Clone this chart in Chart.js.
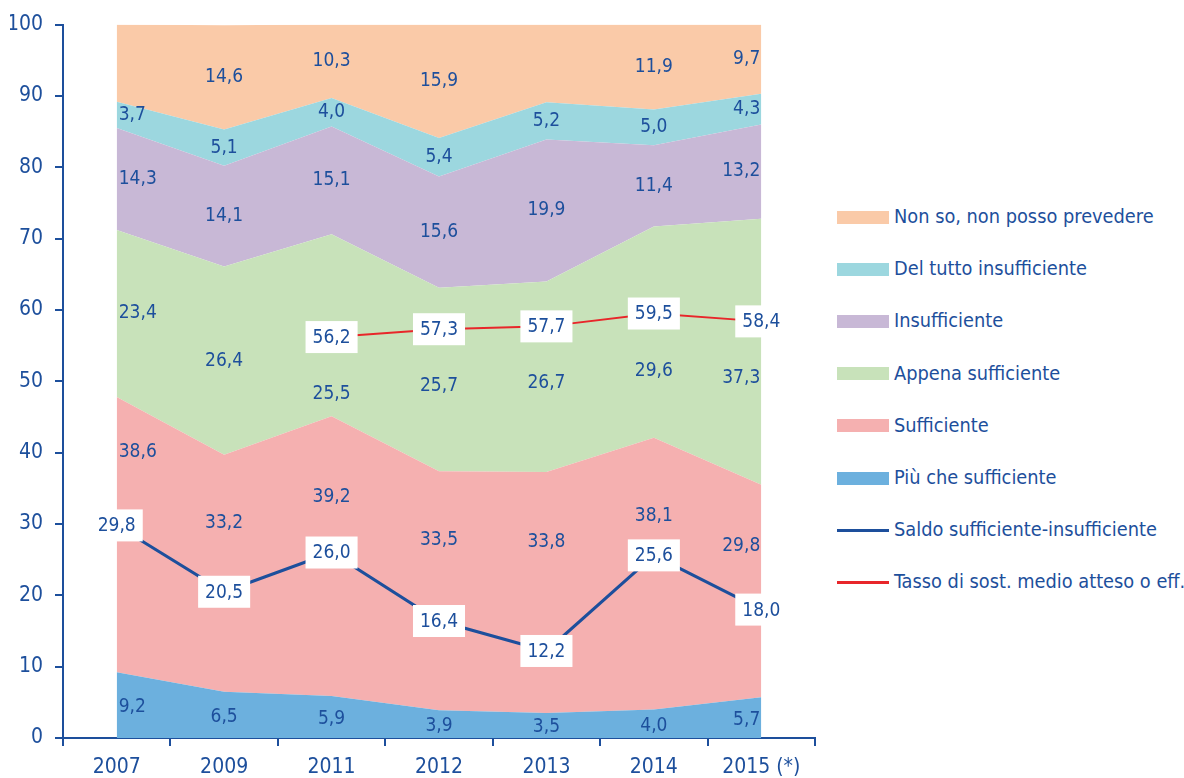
<!DOCTYPE html>
<html>
<head>
<meta charset="utf-8">
<script src="https://cdn.jsdelivr.net/npm/chart.js@4.4.1/dist/chart.umd.min.js"></script>
<style>
  body { margin: 0; background: #fff; }
  #wrap { position: relative; width: 1184px; height: 778px; }
  #box { position: absolute; left: 0; top: 0; width: 820px; height: 778px; }
  #legenda { position: absolute; left: 837px; top: 0; width: 347px; height: 778px;
    font-family: "DejaVu Sans Condensed", sans-serif; font-stretch: condensed;
    font-size: 19.8px; color: #1d4f9c; }
  .voce { position: absolute; left: 0; height: 26px; line-height: 26px; white-space: nowrap; }
  .voce span.seg { position: absolute; left: 0; width: 52px; }
  .voce span.txt { position: absolute; left: 57px; }
</style>
</head>
<body>
<div id="wrap">
  <div id="box"><canvas id="grafico"></canvas></div>
  <div id="legenda"></div>
</div>
<script>
// Anni (asse x)
const anni = ["2007", "2009", "2011", "2012", "2013", "2014", "2015 (*)"];
const tickY = [0, 10, 20, 30, 40, 50, 60, 70, 80, 90, 100];

// Quote % per giudizio (dal basso verso l'alto)
const piuCheSufficiente = [9.2, 6.5, 5.9, 3.9, 3.5, 4.0, 5.7];
const sufficiente = [38.6, 33.2, 39.2, 33.5, 33.8, 38.1, 29.8];
const appenaSufficiente = [23.4, 26.4, 25.5, 25.7, 26.7, 29.6, 37.3];
const insufficiente = [14.3, 14.1, 15.1, 15.6, 19.9, 11.4, 13.2];
const delTuttoInsufficiente = [3.7, 5.1, 4.0, 5.4, 5.2, 5.0, 4.3];
const nonSo = [10.8, 14.6, 10.3, 15.9, 10.9, 11.9, 9.7];
// etichette del "non so" non riportate nel grafico originale
const nonSoMostra = [false, true, true, true, false, true, true];

// Linee
const saldo = [29.8, 20.5, 26.0, 16.4, 12.2, 25.6, 18.0];
const tasso = [null, null, 56.2, 57.3, 57.7, 59.5, 58.4];

const BLU = "#1d4f9c";
const ROSSO = "#e8262a";
const FONT = "'DejaVu Sans Condensed', sans-serif";

function area(label, data, colore, fill) {
  return {
    type: "line",
    label: label,
    data: data,
    backgroundColor: colore,
    borderColor: "rgba(255,255,255,0)",
    borderWidth: 0,
    pointRadius: 0,
    fill: fill,
    yAxisID: "y",
    tension: 0,
  };
}

const datasets = [
  area("Più che sufficiente", piuCheSufficiente, "#6cb0de", "origin"),
  area("Sufficiente", sufficiente, "#f5b0b0", "-1"),
  area("Appena sufficiente", appenaSufficiente, "#c8e2ba", "-1"),
  area("Insufficiente", insufficiente, "#c8b8d6", "-1"),
  area("Del tutto insufficiente", delTuttoInsufficiente, "#9cd7df", "-1"),
  area("Non so, non posso prevedere", nonSo, "#facaa8", "-1"),
  {
    type: "line", label: "Saldo sufficiente-insufficiente", data: saldo,
    borderColor: BLU, borderWidth: 3, pointRadius: 0, fill: false,
    yAxisID: "y2", order: -1, tension: 0,
  },
  {
    type: "line", label: "Tasso di sost. medio atteso o eff.", data: tasso,
    borderColor: ROSSO, borderWidth: 2, pointRadius: 0, fill: false,
    yAxisID: "y2", order: -2, tension: 0, spanGaps: false,
  },
];

// Etichette dei valori
const etichette = {
  id: "etichette",
  afterDatasetsDraw(chart) {
    const ctx = chart.ctx;
    const y = chart.scales.y;
    ctx.save();
    ctx.font = "19px " + FONT;
    ctx.fillStyle = BLU;
    ctx.textBaseline = "middle";
    const n = anni.length;
    for (let d = 0; d < 6; d++) {
      const meta = chart.getDatasetMeta(d);
      const dati = datasets[d].data;
      for (let j = 0; j < n; j++) {
        if (d === 5 && !nonSoMostra[j]) continue;
        let base = 0;
        for (let k = 0; k < d; k++) base += datasets[k].data[j];
        const top = base + dati[j];
        let v = (base + top) / 2;
        // sufficiente: etichetta spostata in alto per non coprire il saldo
        if (d === 1) v = base + (j === 0 ? 0.8 : 0.71) * dati[j];
        // appena sufficiente: sotto l'etichetta del tasso
        if (d === 2 && tasso[j] !== null) v = Math.min(v, tasso[j] - 8);
        const px = meta.data[j].x;
        const py = y.getPixelForValue(v) + (d === 0 ? 2 : 0);
        const testo = dati[j].toFixed(1).replace(".", ",");
        if (j === 0) { ctx.textAlign = "left"; ctx.fillText(testo, px + 2, py); }
        else if (j === n - 1) { ctx.textAlign = "right"; ctx.fillText(testo, px - 1, py); }
        else { ctx.textAlign = "center"; ctx.fillText(testo, px, py); }
      }
    }
    // riquadri bianchi per le linee
    [6, 7].forEach(function (d) {
      const meta = chart.getDatasetMeta(d);
      datasets[d].data.forEach(function (val, j) {
        if (val === null) return;
        const p = meta.data[j];
        const testo = val.toFixed(1).replace(".", ",");
        const w = Math.max(51, ctx.measureText(testo).width + 14);
        const h = 32;
        ctx.fillStyle = "#fff";
        ctx.fillRect(p.x - w / 2, p.y - h / 2, w, h);
        ctx.fillStyle = BLU;
        ctx.textAlign = "center";
        ctx.fillText(testo, p.x, p.y + 1);
      });
    });
    ctx.restore();
  },
};

const ctx = document.getElementById("grafico").getContext("2d");
const grafico = new Chart(ctx, {
  data: { labels: anni, datasets: datasets },
  options: {
    responsive: true,
    maintainAspectRatio: false,
    animation: false,
    layout: { padding: { left: 10, top: 12, right: 5, bottom: 0 } },
    plugins: { legend: { display: false }, tooltip: { enabled: false } },
    scales: {
      x: {
        type: "category",
        offset: true,
        afterFit: function (s) { s.height = 40; },
        grid: { offset: true, drawOnChartArea: false, color: BLU, tickLength: 8, lineWidth: 2 },
        border: { color: BLU, width: 2 },
        ticks: { color: BLU, font: { family: FONT, size: 21 }, padding: 9, maxRotation: 0 },
      },
      y: {
        stacked: true,
        min: 0,
        max: 100,
        afterFit: function (s) { s.width = 53; },
        afterBuildTicks: function (s) { s.ticks = tickY.map(function (v) { return { value: v }; }); },
        grid: { drawOnChartArea: false, color: BLU, tickLength: 8, lineWidth: 2 },
        border: { color: BLU, width: 2 },
        ticks: { color: BLU, font: { family: FONT, size: 21 }, padding: 12 },
      },
      y2: { display: false, min: 0, max: 100 },
    },
  },
  plugins: [etichette],
});

// Legenda HTML
const voci = [
  ["Non so, non posso prevedere", "#facaa8", "area"],
  ["Del tutto insufficiente", "#9cd7df", "area"],
  ["Insufficiente", "#c8b8d6", "area"],
  ["Appena sufficiente", "#c8e2ba", "area"],
  ["Sufficiente", "#f5b0b0", "area"],
  ["Più che sufficiente", "#6cb0de", "area"],
  ["Saldo sufficiente-insufficiente", BLU, "linea"],
  ["Tasso di sost. medio atteso o eff.", ROSSO, "linea"],
];
const legenda = document.getElementById("legenda");
voci.forEach(function (v, i) {
  const c = 217 + i * 52.2;
  const div = document.createElement("div");
  div.className = "voce";
  div.style.top = (c - 13) + "px";
  const seg = document.createElement("span");
  seg.className = "seg";
  const h = v[2] === "area" ? 13 : 3;
  seg.style.height = h + "px";
  seg.style.top = (13 - h / 2) + "px";
  seg.style.background = v[1];
  const txt = document.createElement("span");
  txt.className = "txt";
  txt.textContent = v[0];
  div.appendChild(seg);
  div.appendChild(txt);
  legenda.appendChild(div);
});
</script>
</body>
</html>
